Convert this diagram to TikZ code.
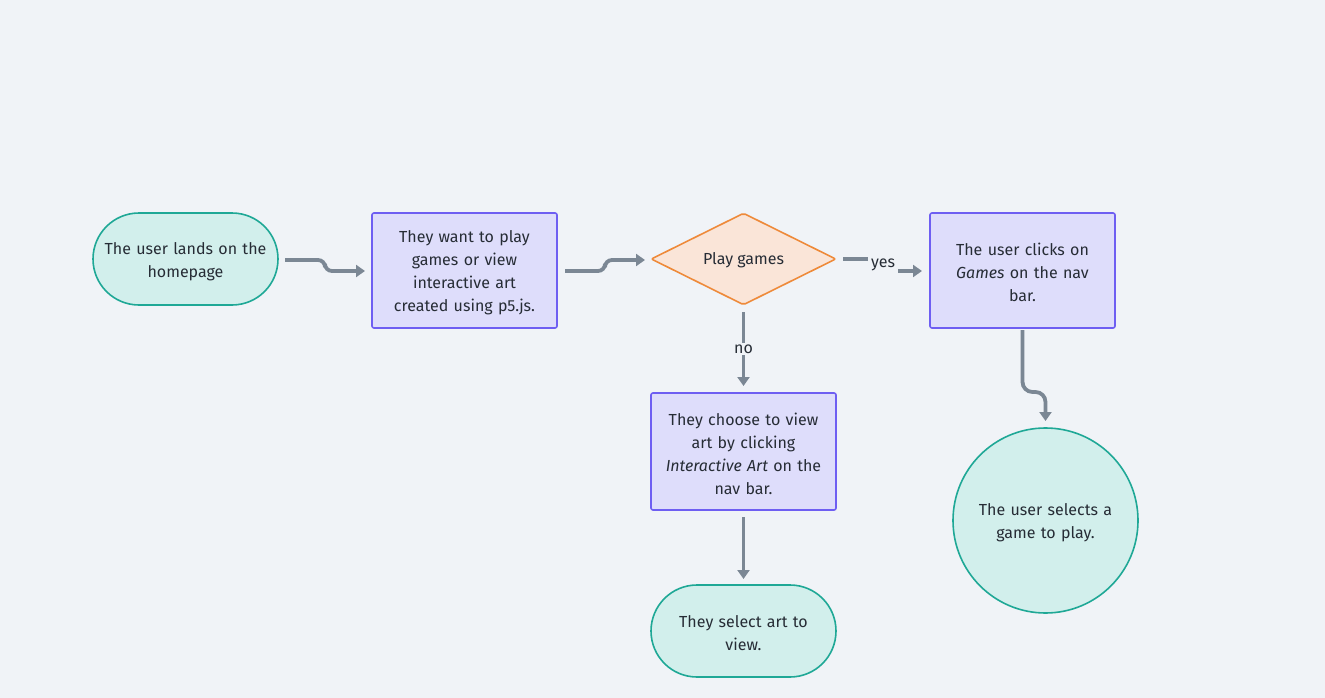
\documentclass[tikz,border=0pt]{standalone}
\usepackage{fontspec}
\setmainfont{Fira Sans}
\usetikzlibrary{shapes.geometric,arrows.meta}
\definecolor{bg}{HTML}{F0F3F7}
\definecolor{tealfill}{HTML}{D2EFEC}
\definecolor{tealline}{HTML}{1FA896}
\definecolor{purfill}{HTML}{DEDDFB}
\definecolor{purline}{HTML}{6E5EF2}
\definecolor{orfill}{HTML}{FAE5D8}
\definecolor{orline}{HTML}{EE8A3A}
\definecolor{conn}{HTML}{7B8794}
\definecolor{txt}{HTML}{262C35}
\newcommand{\diamondtext}[1]{\raisebox{-5.5pt}[0pt][0pt]{\makebox[0pt]{#1}}}
\tikzset{
  base/.style={font=\fontsize{16}{23}\selectfont, text=txt, align=center, line width=1.6pt, inner sep=0pt},
  lowered/.style={execute at begin node={\rule{0pt}{16.5pt}}},
  stadium/.style={base, lowered, draw=tealline, fill=tealfill, rounded corners=46pt, minimum width=185pt, minimum height=92pt, text width=175pt},
  procbox/.style={base, lowered, draw=purline, fill=purfill, rounded corners=2pt, minimum width=185pt, text width=170pt},
  decide/.style={base, diamond, draw=orline, fill=orfill, minimum width=185pt, minimum height=92pt, rounded corners=2pt},
  endcircle/.style={base, lowered, circle, draw=tealline, fill=tealfill, minimum size=185pt, text width=150pt},
  link/.style={draw=conn, line width=3.8pt, rounded corners=7pt, -{Triangle[length=9pt,width=12pt]}},
  lbl/.style={font=\fontsize{16}{18}\selectfont, text=txt, fill=bg, inner sep=2pt}
}
\begin{document}
\begin{tikzpicture}[x=1pt,y=-1pt]
\fill[bg] (0,0) rectangle (1325,698);
\useasboundingbox (0,0) rectangle (1325,698);
\node[stadium] (a) at (185.5,259) {The user lands on the\\homepage};
\node[procbox, minimum height=115pt] (b) at (464.5,270.5) {They want to play\\games or view\\interactive art\\created using p5.js.};
\node[decide] (c) at (743.5,259) {\diamondtext{Play games}};
\node[procbox, minimum height=115pt] (d) at (1022.5,270.5) {The user clicks on\\\textit{Games} on the nav\\bar.};
\node[procbox, minimum height=117pt] (e) at (743.5,451.5) {They choose to view\\art by clicking\\\textit{Interactive Art} on the\\nav bar.};
\node[stadium] (f) at (743.5,631) {They select art to\\view.};
\node[endcircle] (g) at (1045.5,520.5) {The user selects a\\game to play.};
\coordinate (a1) at (285,260);
\coordinate (b0) at (365,271);
\draw[link] (a1) -- (325,260) -- (325,271) -- (b0);
\coordinate (b1) at (565,271);
\coordinate (c0) at (645,260);
\draw[link] (b1) -- (605,271) -- (605,260) -- (c0);
\coordinate (c1) at (843,259);
\coordinate (d0) at (922,271);
\draw[link, rounded corners=0pt] (c1) -- (868,259) -- (898,271) -- (d0);
\node[lbl, minimum width=30pt] (yes) at (883,265) {yes};
\coordinate (c2) at (743.5,312);
\coordinate (e0) at (743.5,386);
\draw[link] (c2) -- (e0);
\node[lbl] (no) at (743.5,349) {no};
\coordinate (d1) at (1022.5,330);
\coordinate (g0) at (1045.5,421);
\draw[link, rounded corners=10pt] (d1) -- (1022.5,392) -- (1045.5,392) -- (g0);
\coordinate (e1) at (743.5,517);
\coordinate (f0) at (743.5,579);
\draw[link] (e1) -- (f0);
\end{tikzpicture}
\end{document}
